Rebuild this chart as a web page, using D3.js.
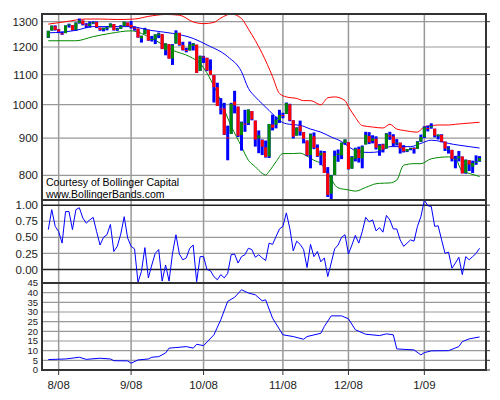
<!DOCTYPE html>
<html><head><meta charset="utf-8">
<script src="https://cdn.jsdelivr.net/npm/d3@7"></script>
<style>body{margin:0;background:#fff}text{font-family:"Liberation Sans",Arial,sans-serif}</style>
</head><body><svg id="c" width="500" height="400"></svg>
<script>
const open_=[1236,1264,1281,1269,1253,1254,1284,1286,1267,1295,1305,1288,1283,1293,1298,1276,1268,1271,1277,1290,1267,1271,1283,1296,1287,1276,1272,1233,1250,1267,1227,1229,1245,1250,1188,1211,1157,1213,1255,1208,1189,1187,1204,1209,1113,1164,1160,1115,1098,1057,988,988,902,912,1010,994,909,942,943,980,951,899,895,874,849,939,939,953,968,971,1001,952,907,936,917,893,853,905,873,852,859,805,755,801,853,852,886,888,817,843,869,844,882,906,892,898,866,882,871,908,905,886,887,874,863,869,872,870,890,903,929,931,927,905,909,890,869,867,842,844,849,806,839,822,832,837];
const high=[1263,1284,1285,1270,1260,1285,1292,1286,1297,1313,1305,1294,1301,1302,1301,1276,1276,1281,1293,1290,1275,1286,1300,1297,1303,1281,1272,1244,1275,1268,1243,1249,1256,1250,1214,1211,1211,1265,1255,1220,1197,1221,1215,1209,1168,1167,1160,1154,1098,1072,1021,1006,936,1006,1045,994,948,984,985,980,951,922,896,893,941,969,963,984,975,1007,1003,952,931,951,917,893,913,916,882,865,864,821,801,865,868,887,896,888,850,873,876,879,918,917,908,905,883,884,914,918,911,897,887,880,869,873,874,891,910,934,936,943,927,910,911,890,877,867,851,864,849,841,839,838,852,850];
const low=[1235,1264,1264,1254,1247,1254,1276,1264,1263,1292,1285,1274,1276,1290,1274,1263,1261,1265,1277,1264,1263,1271,1283,1282,1272,1264,1236,1217,1250,1224,1221,1211,1234,1192,1169,1157,1134,1213,1205,1187,1180,1187,1187,1106,1113,1141,1112,1098,1007,996,970,909,839,912,973,903,865,918,938,952,876,858,853,846,845,922,928,944,958,971,949,899,907,907,885,850,818,869,848,826,806,747,741,801,835,842,881,815,817,836,833,818,882,883,885,868,851,860,871,895,877,879,857,860,861,866,857,870,889,900,919,927,902,896,888,864,857,836,818,836,805,804,811,806,827,835];
const close_=[1263,1284,1267,1260,1249,1285,1289,1266,1296,1305,1289,1285,1293,1298,1278,1267,1275,1277,1292,1266,1271,1281,1300,1283,1277,1275,1237,1243,1268,1225,1231,1249,1252,1193,1214,1157,1207,1255,1208,1189,1186,1210,1213,1106,1166,1161,1115,1099,1057,996,985,910,899,1003,998,907,946,940,985,955,896,908,876,848,941,930,954,968,966,1005,952,904,930,919,898,852,911,873,850,859,806,752,800,851,857,887,896,816,848,870,845,876,909,888,899,873,879,868,913,904,885,887,871,863,869,872,869,890,903,931,927,935,907,910,890,871,871,843,843,850,805,840,828,832,836,845];
const upIdx=[0,5,11,15,20,25,29,34,38,42,45,48,50,53,56,58,60,62,65,67,69,72,74,76,79,81,83,86,87,89,91,94,97,99,101,103,107,109,111,113,116,118,120,125];
const upVal=[1290,1300,1311,1311,1309,1311,1322,1330,1327,1299,1292,1297,1315,1332,1313,1270,1225,1176,1093,1036,1025,1020,1013,1013,1000,1022,1025,1013,994,961,936,932,929,940,926,922,917,933,936,938,938,940,942,946];
const midIdx=[0,4,8,13,24,29,36,42,46,52,56,58,60,62,64,66,68,70,73,76,79,82,85,87,90,93,96,99,102,105,108,111,114,116,119,122,125];
const midVal=[1255,1258,1265,1280,1280,1266,1253,1233,1208,1164,1110,1053,1025,1003,982,961,945,940,937,926,917,903,890,876,862,860,862,876,876,876,885,894,890,885,880,876,872];
const loIdx=[0,8,13,18,24,30,36,41,44,49,53,56,58,60,62,63,64,66,68,71,73,75,77,79,81,84,87,89,92,95,96,99,101,103,106,108,111,116,118,120,122,125];
const loVal=[1224,1224,1240,1253,1263,1233,1188,1164,1139,1037,935,876,839,822,805,801,810,835,857,857,858,850,839,830,805,769,764,761,770,779,780,781,788,826,830,830,843,848,843,810,805,797];
const pctB=[0.62,0.93,0.67,0.59,0.41,0.90,0.90,0.62,0.93,0.96,0.80,0.72,0.77,0.81,0.59,0.38,0.50,0.54,0.70,0.28,0.36,0.55,0.82,0.49,0.36,0.32,-0.2,-0.03,0.34,-0.13,0.07,0.25,0.31,-0.18,0.07,-0.18,0.25,0.54,0.24,0.15,0.18,0.33,0.38,-0.19,0.20,0.20,0,-0.02,-0.11,-0.16,-0.08,-0.13,-0.06,0.23,0.24,0.10,0.20,0.23,0.33,
0.31,0.19,0.23,0.18,0.14,0.41,0.39,0.51,0.63,0.67,0.88,0.64,0.29,0.44,0.39,0.31,0.03,0.39,0.20,0.28,0.12,0.18,-0.11,0.10,0.32,0.38,0.50,0.54,0.24,0.38,0.53,0.41,0.59,0.81,0.74,0.77,0.60,0.65,0.58,0.84,0.77,0.63,0.63,0.46,0.36,0.41,0.46,0.44,0.67,0.82,1.08,0.99,0.98,0.67,0.68,0.46,0.25,0.27,0.02,0.10,0.19,-0.08,0.20,0.15,0.20,0.25,0.33];
const bwIdx=[0,5,9,11,15,18,19,23,24,26,29,30,32,34,35,37,40,42,43,45,48,50,52,54,56,58,60,62,63,65,68,71,74,75,79,80,82,85,87,89,92,96,98,100,101,106,108,109,111,116,119,120,122,125];
const bwVal=[5.4,5.7,6.6,5.5,6.1,5.7,4.8,4.7,3.5,5.2,5.7,6.6,6.9,8.8,11.3,11.6,12.1,11.3,13.3,12.6,18.2,26,35.5,37.6,41.5,39.8,38.9,35.8,36.3,26.8,18.2,17.3,15.9,17.3,19,22.5,28,28,26.5,20.8,18.5,17.8,18.7,18.2,10.9,10.4,7.8,9,9.9,10,12.1,14.7,16.1,17.1];
const monthLabels=["8/08","9/08","10/08","11/08","12/08","1/09"];
const monthIdx=[3,24,45,68,87,109];
const priceTicks=[800,900,1000,1100,1200,1300];
const pctTicks=[0,0.25,0.5,0.75,1];
const bwTicks=[0,5,10,15,20,25,30,35,40,45];

const svg=d3.select("#c");
const L=42,R=486;
const n=close_.length;
const x=d3.scaleLinear().domain([0,n-1]).range([48.3,48.3+(n-1)*3.45]);
const yP=d3.scaleLog().domain([740,1332]).range([200,14]);
const yB=d3.scaleLinear().domain([-0.21,1.08]).range([283,200]);
const yW=d3.scaleLinear().domain([0,45]).range([370,283]);
const panels=[{t:14,b:200,id:"p1"},{t:200,b:283,id:"p2"},{t:283,b:370,id:"p3"}];
panels.forEach(p=>svg.append("clipPath").attr("id",p.id).append("rect").attr("x",L).attr("y",p.t).attr("width",R-L).attr("height",p.b-p.t));
panels.forEach(p=>{
 svg.append("g").selectAll("line").data(monthIdx).join("line")
  .attr("x1",d=>x(d)).attr("x2",d=>x(d)).attr("y1",p.t).attr("y2",p.b)
  .attr("stroke","#999").attr("stroke-width",1.5);
});
function hgrid(scale,ticks,fmt,dark,fs){
 const g=svg.append("g");
 g.selectAll("line.g").data(ticks).join("line")
  .attr("x1",L).attr("x2",R).attr("y1",d=>scale(d)).attr("y2",d=>scale(d))
  .attr("stroke",d=>dark&&dark.includes(d)?"#222":"#999").attr("stroke-width",d=>dark&&dark.includes(d)?1.5:1.2);
 g.selectAll("line.t").data(ticks).join("line")
  .attr("x1",R).attr("x2",R+4).attr("y1",d=>scale(d)).attr("y2",d=>scale(d)).attr("stroke","#333");
 g.selectAll("text").data(ticks).join("text")
  .attr("x",38).attr("y",d=>scale(d)+fs*0.36).attr("text-anchor","end").attr("font-size",fs).attr("fill","#222").text(fmt);
}
hgrid(yP,priceTicks,d=>d,null,11.5);
hgrid(yB,pctTicks,d=>d3.format(".2f")(d),[0,1],11.5);
hgrid(yW,bwTicks,d=>d,null,9.5);
const g1=svg.append("g").attr("clip-path","url(#p1)");
function band(idx,val,col){
 g1.append("path").datum(idx.map((d,i)=>[d,val[i]]))
  .attr("d",d3.line().x(d=>x(d[0])).y(d=>yP(d[1])).curve(d3.curveMonotoneX))
  .attr("fill","none").attr("stroke",col).attr("stroke-width",1);
}
band(upIdx,upVal,"#f00");band(midIdx,midVal,"#00f");band(loIdx,loVal,"#080");
const bw=3;
g1.selectAll("rect.hl").data(d3.range(n)).join("rect")
 .attr("x",i=>x(i)-bw/2).attr("width",bw)
 .attr("y",i=>yP(high[i])).attr("height",i=>Math.max(1,yP(low[i])-yP(high[i])))
 .attr("fill","#00f");
g1.selectAll("rect.oc").data(d3.range(n)).join("rect")
 .attr("x",i=>x(i)-bw/2).attr("width",bw)
 .attr("y",i=>yP(Math.max(open_[i],close_[i]))).attr("height",i=>Math.max(1,Math.abs(yP(open_[i])-yP(close_[i]))))
 .attr("fill",i=>close_[i]>=open_[i]?"#080":"#f00");
svg.append("text").attr("x",46).attr("y",186).attr("font-size",10.5).text("Courtesy of Bollinger Capital");
svg.append("text").attr("x",46).attr("y",197.5).attr("font-size",10.5).text("www.BollingerBands.com");
svg.append("g").attr("clip-path","url(#p2)").append("path").datum(pctB)
 .attr("d",d3.line().x((d,i)=>x(i)).y(d=>yB(d))).attr("fill","none").attr("stroke","#00f").attr("stroke-width",1);
svg.append("g").attr("clip-path","url(#p3)").append("path").datum(bwIdx.map((d,i)=>[d,bwVal[i]]))
 .attr("d",d3.line().x(d=>x(d[0])).y(d=>yW(d[1]))).attr("fill","none").attr("stroke","#00f").attr("stroke-width",1);
panels.forEach(p=>svg.append("rect").attr("x",L).attr("y",p.t).attr("width",R-L).attr("height",p.b-p.t)
 .attr("fill","none").attr("stroke","#333").attr("stroke-width",2));
svg.append("g").selectAll("line").data(monthIdx).join("line").attr("x1",d=>x(d)).attr("x2",d=>x(d))
 .attr("y1",370).attr("y2",375).attr("stroke","#333");
svg.append("g").selectAll("text").data(monthIdx).join("text").attr("x",d=>x(d)).attr("y",389)
 .attr("text-anchor","middle").attr("font-size",11.5).attr("fill","#222").text((d,i)=>monthLabels[i]);
</script></body></html>
